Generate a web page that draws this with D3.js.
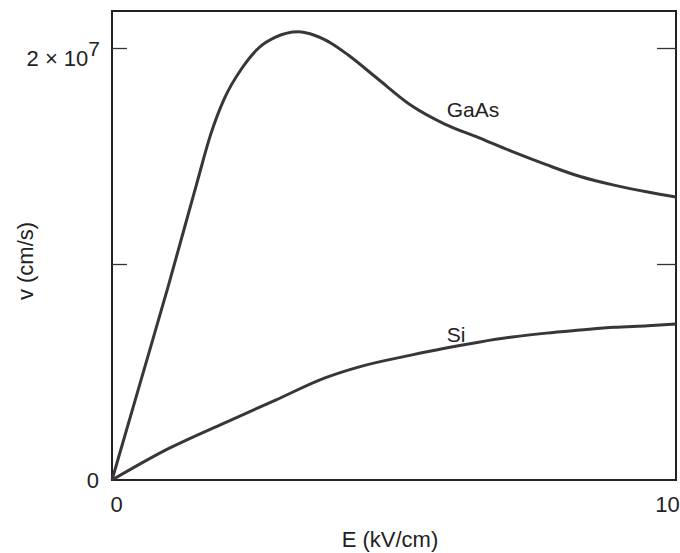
<!DOCTYPE html>
<html>
<head>
<meta charset="utf-8">
<script src="https://cdn.jsdelivr.net/npm/d3@7"></script>
<style>
  html, body { margin: 0; padding: 0; background: #fff; }
  svg { display: block; }
  text { font-family: "Liberation Sans", Arial, Helvetica, sans-serif; fill: #222; }
</style>
</head>
<body>
<svg id="chart" width="680" height="553"></svg>
<script>
// Electron drift velocity vs. electric field
const gaasField = [0, 0.5, 1.0, 1.5, 1.75, 2.0, 2.3, 2.6, 2.9, 3.3, 3.6, 3.9, 4.2, 4.7, 5.3, 5.9, 6.5, 7.1, 7.7, 8.3, 8.9, 9.5, 10];
const gaasVelocity = [0, 0.45e7, 0.90e7, 1.37e7, 1.60e7, 1.77e7, 1.905e7, 2.00e7, 2.05e7, 2.075e7, 2.058e7, 2.02e7, 1.965e7, 1.86e7, 1.735e7, 1.648e7, 1.585e7, 1.52e7, 1.46e7, 1.405e7, 1.365e7, 1.333e7, 1.31e7];

const siField = [0, 1.0, 2.0, 2.9, 3.8, 4.4, 5.3, 5.9, 6.5, 7.1, 7.7, 8.3, 8.9, 9.5, 10];
const siVelocity = [0, 0.145e7, 0.265e7, 0.37e7, 0.475e7, 0.525e7, 0.578e7, 0.61e7, 0.638e7, 0.662e7, 0.68e7, 0.694e7, 0.707e7, 0.714e7, 0.722e7];

const xTickValues = [0, 10];
const xTickLabels = ["0", "10"];
const yTickValues = [0, 1e7, 2e7];
const yTickLabels = ["0", "", "2 × 10|7"];   // "|" separates the exponent

const seriesNames = ["GaAs", "Si"];
const xTitle = "E (kV/cm)";
const yTitle = "v (cm/s)";

const svg = d3.select("#chart");
const frameLeft = 112, frameRight = 676, frameTop = 11, frameBottom = 480;

const x = d3.scaleLinear().domain([0, 10]).range([frameLeft, frameRight]);
const y = d3.scaleLinear().domain([0, 2e7]).range([frameBottom, 48]);

// frame
svg.append("rect")
  .attr("x", frameLeft).attr("y", frameTop)
  .attr("width", frameRight - frameLeft).attr("height", frameBottom - frameTop)
  .attr("fill", "none").attr("stroke", "#222").attr("stroke-width", 2);

// left axis: short inward ticks
const yAxisL = svg.append("g")
  .attr("transform", `translate(${frameLeft},0)`)
  .call(d3.axisLeft(y).tickValues(yTickValues).tickSize(-15).tickPadding(12).tickFormat(() => ""));
yAxisL.select(".domain").remove();
yAxisL.selectAll(".tick line").attr("stroke", "#333").attr("stroke-width", 1.3)
  .filter(d => d === 0).remove();
yAxisL.selectAll(".tick text")
  .attr("font-size", 22)
  .attr("dy", "0.32em")
  .each(function (d, i) {
    const t = d3.select(this);
    const parts = yTickLabels[i].split("|");
    if (parts.length === 1) {
      t.text(parts[0]).attr("x", -13);
    } else {
      t.attr("x", -12).attr("dy", "0.8em");
      t.append("tspan").text(parts[0]);
      t.append("tspan").text(parts[1]).attr("dy", "-0.5em").attr("font-size", 21);
    }
  });

// right axis: inward ticks without labels
const yAxisR = svg.append("g")
  .attr("transform", `translate(${frameRight},0)`)
  .call(d3.axisRight(y).tickValues([1e7, 2e7]).tickSize(-19).tickFormat(() => ""));
yAxisR.select(".domain").remove();
yAxisR.selectAll(".tick line").attr("stroke", "#333").attr("stroke-width", 1.3);

// bottom axis: labels only
const xAxis = svg.append("g")
  .attr("transform", `translate(0,${frameBottom})`)
  .call(d3.axisBottom(x).tickValues(xTickValues).tickSize(0).tickPadding(16)
    .tickFormat((d, i) => xTickLabels[i]));
xAxis.select(".domain").remove();
xAxis.selectAll(".tick text")
  .attr("font-size", 22)
  .attr("dx", d => d === 0 ? 4 : -9);

// axis titles
svg.append("text")
  .attr("x", 390).attr("y", 547)
  .attr("text-anchor", "middle").attr("font-size", 22)
  .text(xTitle);
svg.append("text")
  .attr("transform", "translate(33,261) rotate(-90)")
  .attr("text-anchor", "middle").attr("font-size", 22)
  .text(yTitle);

// curves
const line = d3.line()
  .x(d => x(d[0])).y(d => y(d[1]))
  .curve(d3.curveMonotoneX);

const series = [
  d3.zip(gaasField, gaasVelocity),
  d3.zip(siField, siVelocity)
];

svg.selectAll("path.curve")
  .data(series)
  .join("path")
  .attr("class", "curve")
  .attr("d", line)
  .attr("fill", "none")
  .attr("stroke", "#3a3538")
  .attr("stroke-width", 3)
  .attr("stroke-linejoin", "round");

// series labels
svg.append("text").attr("x", 473).attr("y", 117)
  .attr("text-anchor", "middle").attr("font-size", 21).text(seriesNames[0]);
svg.append("text").attr("x", 456).attr("y", 342)
  .attr("text-anchor", "middle").attr("font-size", 21).text(seriesNames[1]);
</script>
</body>
</html>
